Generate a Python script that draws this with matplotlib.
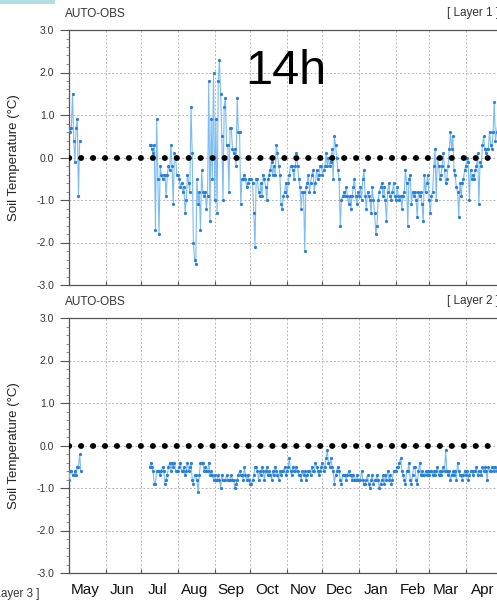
import numpy as np
import pandas as pd
import matplotlib
matplotlib.use('Agg')
import matplotlib.pyplot as plt
import matplotlib.dates as mdates
from matplotlib.ticker import MultipleLocator, FormatStrFormatter, NullFormatter
from matplotlib.patches import Rectangle

plt.rcParams['font.family'] = ['Liberation Sans', 'DejaVu Sans']
plt.rcParams['axes.unicode_minus'] = False

# daily soil temperature anomalies (deg C), 14h, May 2016 - Apr 2017
# layer 1
may1 = [0.7, 0.6, 0.7, 1.5, 0.4, -0.1, 0.7, 0.9, -0.9, 0.4]
jul1 = [0.3, 0.3, 0.2, 0.1, 0.3, -1.7, 0.9, -0.5, -1.8, -0.2, -0.4, -0.5,
        -0.4, -0.4, -0.9, -0.4, -0.2, -0.3, 0.3, -0.2, -1.1, 0.1, 0.0, -0.4]
aug1 = [-0.4, -0.5, -0.7, -0.6, -0.8, -0.7, -1.3, -1.0, -0.4, -0.6,
        -0.8, 1.2, 0.1, -2.0, -2.4, -2.5, -0.5, -1.1, -0.8, -1.7,
        -0.3, -0.8, -0.9, -0.8, -1.2, -0.9, 1.8, -1.5, 0.9, -0.5, 2.0]
sep1 = [-1.0, 0.9, -1.3, 1.8, 2.3, 1.5, 0.5, -1.0, 1.2, 1.4,
        0.3, 0.3, -0.8, 0.7, 0.7, 0.2, 0.1, 0.2, -0.2, 1.4,
        0.6, 0.6, -1.1, -0.5, -0.5, -0.4, -0.5, -0.7, -0.6, -0.5]
oct1 = [-0.5, -0.5, -0.6, -1.3, -2.1, -0.5, -0.5, -0.8, -0.9, -0.6,
        -0.9, -0.4, -0.5, -0.7, -1.0, -0.5, -0.4, -0.3, -0.1, -0.4,
        -0.2, -0.4, 0.3, 0.1, -0.2, -0.4, -1.1, -1.2, -0.9, -0.8, -0.6]
nov1 = [-0.9, -0.6, -0.4, -0.2, -0.2, -0.3, -0.5, -0.2, 0.1, -0.2,
        -0.5, -0.7, -1.2, -0.8, -0.8, -2.2, -0.7, -0.6, -0.4, -0.8,
        -0.6, -0.4, -0.3, -0.8, -0.6, -0.3, -0.5, -0.4, -0.2, -0.2]
dec1 = [-0.4, -0.3, -0.2, 0.1, -0.2, 0.0, -0.2, -0.1, 0.2, -0.5,
        0.5, 0.3, 0.0, -0.3, -0.5, -1.6, -1.0, -0.9, -0.8, -0.9,
        -0.7, -0.9, -1.1, -0.9, -1.2, -0.9, -0.7, -0.5, -0.9, -1.1, -0.8]
jan1 = [-0.9, -0.7, -1.0, -0.5, -0.3, -0.9, -1.2, -0.8, -0.9, -1.0,
        -1.3, -0.7, -1.0, -1.3, -1.8, -1.6, -1.0, -0.8, -0.7, -0.6,
        -0.9, -0.7, -1.0, -1.5, -0.8, -0.6, -0.9, -1.0, -0.8, -0.6, -0.9]
feb1 = [-1.0, -0.7, -0.9, -1.0, -0.9, -1.2, -0.9, -0.8, -0.3, -0.6,
        -1.6, -0.5, -0.4, -1.1, -0.8, -0.9, -0.8, -1.0, -1.4, -0.8,
        -0.9, -0.8, -1.1, -1.5, -0.4, -0.8, -0.6, -0.4]
mar1 = [-1.0, -1.3, -0.9, -0.8, -0.2, 0.2, -1.0, 0.0, -0.2, -0.5,
        -0.4, -0.2, 0.1, -0.3, -0.6, -0.5, -0.2, 0.2, 0.6, 0.2,
        0.5, -0.3, -0.4, -0.7, -0.8, -1.4, -0.6, -0.9, -0.6, -0.5, -0.3]
apr1 = [-0.2, 0.0, -0.1, -1.0, -0.3, -0.5, -0.4, -0.5, -0.3, -0.2,
        0.1, -1.1, -0.1, -0.2, 0.3, 0.5, 0.2, 0.1, 0.2, 0.2,
        0.6, 0.3, 0.2, 0.6, 1.3, 0.4, 0.6, 0.8, 0.7, 0.9]

# layer 2
may2 = [-0.8, -0.6, -0.6, -0.7, -0.7, -0.6, -0.7, -0.5, -0.5, -0.2, -0.6]
jul2 = [-0.5, -0.4, -0.5, -0.6, -0.9, -0.9, -0.6, -0.6, -0.6, -0.7, -0.6, -0.5,
        -0.6, -0.9, -0.8, -0.7, -0.5, -0.4, -0.6, -0.4, -0.5, -0.4, -0.6, -0.6]
aug2 = [-0.6, -0.5, -0.4, -0.6, -0.6, -0.5, -0.7, -0.6, -0.4, -0.6,
        -0.5, -0.4, -0.8, -0.9, -0.7, -0.7, -0.8, -1.1, -0.7, -0.4,
        -0.4, -0.4, -0.6, -0.5, -0.6, -0.6, -0.4, -0.7, -0.6, -0.7, -0.8]
sep2 = [-0.7, -0.8, -0.8, -0.7, -0.8, -1.0, -0.7, -0.8, -0.8, -0.8,
        -0.7, -0.8, -0.8, -0.8, -0.7, -0.8, -0.8, -1.0, -0.9, -0.8,
        -0.7, -0.6, -0.7, -0.7, -0.8, -0.5, -0.7, -0.8, -0.7, -0.8]
oct2 = [-0.9, -0.9, -0.8, -0.7, -0.5, -0.5, -0.6, -0.8, -0.6, -0.7,
        -0.5, -0.6, -0.8, -0.6, -0.5, -0.7, -0.6, -0.7, -0.8, -0.6,
        -0.7, -0.5, -0.6, -0.7, -0.8, -0.6, -0.7, -0.6, -0.6, -0.5, -0.7]
nov2 = [-0.6, -0.5, -0.3, -0.6, -0.7, -0.5, -0.6, -0.6, -0.5, -0.6,
        -0.7, -0.7, -0.8, -0.6, -0.7, -0.6, -0.8, -0.7, -0.6, -0.6,
        -0.7, -0.5, -0.6, -0.6, -0.4, -0.5, -0.6, -0.7, -0.6, -0.5]
dec2 = [-0.4, -0.6, -0.5, -0.3, -0.1, -0.4, -0.5, -0.3, -0.5, -0.6,
        -0.9, -0.7, -0.6, -0.5, -0.6, -0.8, -0.9, -0.7, -0.7, -0.7,
        -0.8, -0.7, -0.6, -0.7, -0.7, -0.8, -0.7, -0.8, -0.8, -0.7, -0.8]
jan2 = [-0.8, -0.8, -0.6, -0.8, -0.9, -0.9, -0.8, -0.7, -0.9, -1.0,
        -0.8, -0.7, -0.9, -0.8, -0.8, -0.7, -0.8, -1.0, -0.9, -0.8,
        -0.7, -0.9, -0.7, -0.8, -0.6, -0.8, -0.7, -0.9, -0.8, -0.6, -0.6]
feb2 = [-0.6, -0.5, -0.5, -0.4, -0.3, -0.6, -0.7, -0.8, -0.9, -0.6,
        -0.6, -0.4, -0.8, -0.9, -0.7, -0.5, -0.5, -0.8, -0.9, -0.6,
        -0.4, -0.7, -0.6, -0.7, -0.7, -0.6, -0.7, -0.6]
mar2 = [-0.7, -0.6, -0.6, -0.7, -0.6, -0.7, -0.6, -0.5, -0.7, -0.6,
        -0.7, -0.6, -0.5, -0.6, -0.1, -0.6, -0.7, -0.6, -0.8, -0.7,
        -0.6, -0.7, -0.6, -0.8, -0.4, -0.6, -0.7, -0.7, -0.8, -0.7, -0.6]
apr2 = [-0.7, -0.6, -0.8, -0.7, -0.6, -0.6, -0.7, -0.6, -0.6, -0.5,
        -0.7, -0.6, -0.6, -0.7, -0.5, -0.6, -0.5, -0.6, -0.8, -0.5,
        -0.6, -0.6, -0.5, -0.5, -0.6, -0.5, -0.6, -0.5, -0.6, -0.5]

start = '2016-05-01'
resume = '2016-07-08'  # observations restart after the gap
layers = ['Layer 1', 'Layer 2']

days = pd.date_range(start, '2017-04-30', freq='D')


def daily_series(first, rest):
    s = pd.Series(np.nan, index=days)
    s.iloc[:len(first)] = first
    i0 = days.get_loc(pd.Timestamp(resume))
    s.iloc[i0:i0 + len(rest)] = rest
    return s


layer1 = daily_series(may1, jul1 + aug1 + sep1 + oct1 + nov1 + dec1 + jan1 + feb1 + mar1 + apr1)
layer2 = daily_series(may2, jul2 + aug2 + sep2 + oct2 + nov2 + dec2 + jan2 + feb2 + mar2 + apr2)

fig = plt.figure(figsize=(4.97, 6.0), dpi=100)
fig.patches.append(Rectangle((0, 1 - 4 / 600), 55 / 497, 4 / 600, transform=fig.transFigure,
                             facecolor='#b2dfe2', edgecolor='none'))

ax_w = 0.870
boxes = [[0.1388, 0.525, ax_w, 0.425], [0.1388, 0.045, ax_w, 0.425]]
series = [layer1, layer2]

for k, (box, s, name) in enumerate(zip(boxes, series, layers)):
    ax = fig.add_axes(box)
    ax.plot(s.index, s.values, '-', color='#7cbcf0', lw=0.8, zorder=3)
    ax.plot(s.index, s.values, 'o', color='#2c7fd6', ms=2.3, mew=0, zorder=4)
    # heavy dotted zero line
    ax.axhline(0, color='k', lw=4.2, ls=(0, (0.05, 2.0)), dash_capstyle='round', zorder=6)

    ax.set_xlim(pd.Timestamp(start), pd.Timestamp('2017-05-01'))
    ax.set_ylim(-3, 3)
    ax.yaxis.set_major_locator(MultipleLocator(1.0))
    ax.yaxis.set_minor_locator(MultipleLocator(0.2))
    ax.yaxis.set_major_formatter(FormatStrFormatter('%.1f'))
    ax.xaxis.set_major_locator(mdates.MonthLocator())
    ax.xaxis.set_major_formatter(NullFormatter())
    ax.xaxis.set_minor_locator(mdates.MonthLocator(bymonthday=15))
    if k == 1:
        ax.xaxis.set_minor_formatter(mdates.DateFormatter('%b'))
    else:
        ax.xaxis.set_minor_formatter(NullFormatter())

    ax.grid(True, which='major', ls=(0, (2, 2)), color='#b5b5b5', lw=0.7)
    ax.tick_params(axis='y', which='major', direction='out', length=6.5, width=0.8,
                   color='#555555', labelsize=7.5, labelcolor='#333333', pad=4)
    ax.tick_params(axis='y', which='minor', direction='out', length=2.5, width=0.6,
                   color='#777777')
    ax.tick_params(axis='x', which='major', direction='in', length=3, width=0.8,
                   color='#555555')
    ax.tick_params(axis='x', which='minor', length=0, labelsize=11, pad=7,
                   labelcolor='#111111')
    for sp in ax.spines.values():
        sp.set_color('#555555')
        sp.set_linewidth(0.9)

    ax.set_ylabel('Soil Temperature (\u00b0C)', fontsize=9.5, color='#222222')
    ax.yaxis.set_label_coords(-0.114, 0.5)

    top = 1 - (box[1] + box[3])
    fig.text(65 / 497, 1 - (top * 600 - 16) / 600, 'AUTO-OBS', fontsize=8.5,
             color='#333333', va='center', ha='left')
    fig.text(447 / 497, 1 - (top * 600 - 17) / 600, '[ ' + name + ' ]', fontsize=8.5,
             color='#333333', va='center', ha='left')

# neighbouring panel label, cut by the crop as in the source image
fig.text(40 / 497, 1 - 594 / 600, '[ Layer 3 ]', fontsize=8.3, color='#333333',
         va='center', ha='right')
fig.text(245 / 497, 1 - 71 / 600, '14h', fontsize=35, color='black',
         va='center', ha='left')

fig.savefig('out.png', dpi=100)
